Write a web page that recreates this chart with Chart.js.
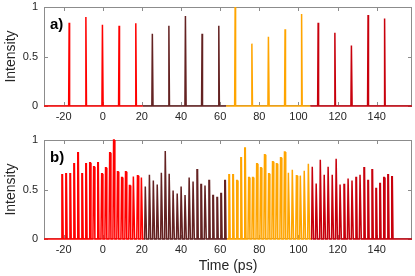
<!DOCTYPE html>
<html>
<head>
<meta charset="utf-8">
<script src="https://cdn.jsdelivr.net/npm/chart.js@4.4.0/dist/chart.umd.min.js"></script>
<style>
  html, body { margin: 0; padding: 0; background: #fff; }
  #wrap { position: relative; width: 415px; height: 276px; }
  canvas { position: absolute; left: 0; }
  #chartA { top: 0; }
  #chartB { top: 125px; }
</style>
</head>
<body>
<div id="wrap">
  <canvas id="chartA" width="415" height="125"></canvas>
  <canvas id="chartB" width="415" height="151"></canvas>
</div>
<script>
// axis ranges and ticks (ps)
const timeMin = -30, timeMax = 158;
const xTicks = [-20, 0, 20, 40, 60, 80, 100, 120, 140];
const yTicks = [0, 0.5, 1];

// one colour per pulse group
const groupColors = ['#ff0000', '#642222', '#ffa500', '#c8000c'];

// panel a) pulse times and peak heights
const aTimesRed     = [-17.1, -8.6, -0.1, 8.4, 16.9];
const aPeaksRed     = [0.84, 0.90, 0.82, 0.81, 0.835];
const aTimesBrown   = [25.4, 33.8, 42.3, 50.8, 59.3];
const aPeaksBrown   = [0.73, 0.81, 0.91, 0.73, 0.81];
const aTimesOrange  = [67.7, 76.2, 84.7, 93.2, 101.6];
const aPeaksOrange  = [1.0, 0.63, 0.70, 0.775, 0.93];
const aTimesDarkRed = [110.1, 118.6, 127.1, 135.6, 144.0];
const aPeaksDarkRed = [0.84, 0.74, 0.61, 0.92, 0.885];
const aEdges = [timeMin, 20.5, 63, 106, timeMax]; // where the trace changes colour

// panel b) pulse times and peak heights
const bTimesRed = [-20.7, -18.7, -16.6, -14.6, -12.6, -10.5, -8.5, -6.5, -4.5, -2.4, -0.4,
  1.6, 3.7, 5.7, 7.7, 9.8, 11.8, 13.8, 15.8, 17.9, 19.9];
const bPeaksRed = [0.65, 0.66, 0.66, 0.76, 0.87, 0.66, 0.76, 0.77, 0.73, 0.77, 0.66,
  0.72, 0.87, 1.0, 0.68, 0.62, 0.68, 0.54, 0.63, 0.64, 0.62];
const bTimesBrown = [21.9, 24.0, 26.0, 28.0, 30.1, 32.1, 34.1, 36.1, 38.2, 40.2, 42.2,
  44.3, 46.3, 48.3, 50.3, 52.4, 54.4, 56.4, 58.5, 60.5, 62.5];
const bPeaksBrown = [0.53, 0.65, 0.59, 0.55, 0.67, 0.89, 0.66, 0.49, 0.46, 0.53, 0.445,
  0.62, 0.58, 0.70, 0.55, 0.54, 0.59, 0.44, 0.42, 0.46, 0.59];
const bTimesOrange = [64.6, 66.6, 68.6, 70.7, 72.7, 74.7, 76.7, 78.8, 80.8, 82.8, 84.9,
  86.9, 88.9, 91.0, 93.0, 95.0, 97.0, 99.1, 101.1, 103.1, 105.2];
const bPeaksOrange = [0.65, 0.65, 0.59, 0.82, 0.92, 0.62, 0.62, 0.76, 0.72, 0.85, 0.66,
  0.78, 0.76, 0.82, 0.88, 0.67, 0.70, 0.64, 0.64, 0.69, 0.76];
const bTimesDarkRed = [107.2, 109.2, 111.3, 113.3, 115.3, 117.4, 119.4, 121.4, 123.4, 125.5, 127.5,
  129.5, 131.6, 133.6, 135.6, 137.7, 139.7, 141.7, 143.7, 145.8, 147.8];
const bPeaksDarkRed = [0.73, 0.56, 0.80, 0.65, 0.73, 0.65, 0.81, 0.55, 0.55, 0.61, 0.59,
  0.62, 0.65, 0.72, 0.59, 0.70, 0.51, 0.56, 0.62, 0.65, 0.63];
const bEdges = [timeMin, 21, 63.5, 106.3, timeMax];

const FONT = '"Liberation Sans", Arial, sans-serif';
const TXT = '#262626';

// baseline from..to with narrow pulses on it
function trace(times, peaks, from, to, halfBase, halfTop) {
  const pts = [{ x: from, y: 0 }];
  times.forEach((t, i) => {
    pts.push({ x: t - halfBase, y: 0 }, { x: t - halfTop, y: peaks[i] },
             { x: t + halfTop, y: peaks[i] }, { x: t + halfBase, y: 0 });
  });
  pts.push({ x: to, y: 0 });
  return pts;
}

function makeSets(groups, edges, halfBase, halfTop) {
  return groups.map((g, i) => ({
    data: trace(g[0], g[1], edges[i], edges[i + 1], halfBase, halfTop),
    borderColor: groupColors[i],
    borderWidth: 1.5,
    pointRadius: 0,
    tension: 0,
    clip: 2
  }));
}

// box round the plot with inward ticks, MATLAB style
const frame = {
  id: 'frame',
  beforeDatasetsDraw(chart) {
    const { ctx, chartArea: a, scales: { x, y } } = chart;
    ctx.save();
    ctx.strokeStyle = '#8c8c8c';
    ctx.lineWidth = 1;
    ctx.strokeRect(a.left + 0.5, a.top + 0.5, a.right - a.left - 1, a.bottom - a.top - 1);
    ctx.beginPath();
    x.ticks.forEach(t => {
      const px = Math.round(x.getPixelForValue(t.value)) + 0.5;
      ctx.moveTo(px, a.bottom); ctx.lineTo(px, a.bottom - 4);
      ctx.moveTo(px, a.top); ctx.lineTo(px, a.top + 4);
    });
    y.ticks.forEach(t => {
      const py = Math.round(y.getPixelForValue(t.value)) + 0.5;
      ctx.moveTo(a.left, py); ctx.lineTo(a.left + 4, py);
      ctx.moveTo(a.right, py); ctx.lineTo(a.right - 4, py);
    });
    ctx.stroke();
    ctx.restore();
  },
  afterDraw(chart, args, opts) {
    const { ctx, chartArea: a } = chart;
    ctx.save();
    ctx.font = 'bold 15px ' + FONT;
    ctx.fillStyle = '#000';
    ctx.textBaseline = 'alphabetic';
    ctx.fillText(opts.label, a.left + 6, a.top + 22);
    ctx.restore();
  }
};

function makeChart(id, datasets, label, padTop, xHeight, showTitle) {
  return new Chart(document.getElementById(id), {
    type: 'line',
    data: { datasets },
    plugins: [frame],
    options: {
      responsive: false,
      animation: false,
      events: [],
      layout: { padding: { top: padTop, right: 3, left: 0, bottom: 0 } },
      plugins: { legend: { display: false }, tooltip: { enabled: false }, frame: { label } },
      scales: {
        x: {
          type: 'linear', min: timeMin, max: timeMax,
          afterBuildTicks: s => { s.ticks = xTicks.map(v => ({ value: v })); },
          afterFit: s => { s.height = xHeight; s.paddingLeft = 0; s.paddingRight = 0; },
          grid: { display: false, drawTicks: false },
          border: { display: false },
          ticks: { padding: 4, color: TXT, font: { family: FONT, size: 11 }, maxRotation: 0 },
          title: { display: showTitle, text: 'Time (ps)', color: TXT,
                   font: { family: FONT, size: 14 }, padding: { top: 0, bottom: 1 } }
        },
        y: {
          min: 0, max: 1,
          afterBuildTicks: s => { s.ticks = yTicks.map(v => ({ value: v })); },
          afterFit: s => { s.width = 44; s.paddingTop = 0; s.paddingBottom = 0; },
          grid: { display: false, drawTicks: false },
          border: { display: false },
          ticks: { padding: 6, color: TXT, font: { family: FONT, size: 11 },
                   callback: v => String(v) },
          title: { display: true, text: 'Intensity', color: TXT,
                   font: { family: FONT, size: 14 }, padding: { top: 3, bottom: 0 } }
        }
      }
    }
  });
}

makeChart('chartA', makeSets([
  [aTimesRed, aPeaksRed], [aTimesBrown, aPeaksBrown],
  [aTimesOrange, aPeaksOrange], [aTimesDarkRed, aPeaksDarkRed]
], aEdges, 0.3, 0.05), 'a)', 7, 19, false);

makeChart('chartB', makeSets([
  [bTimesRed, bPeaksRed], [bTimesBrown, bPeaksBrown],
  [bTimesOrange, bPeaksOrange], [bTimesDarkRed, bPeaksDarkRed]
], bEdges, 0.5, 0.15), 'b)', 15, 37, true);
</script>
</body>
</html>
